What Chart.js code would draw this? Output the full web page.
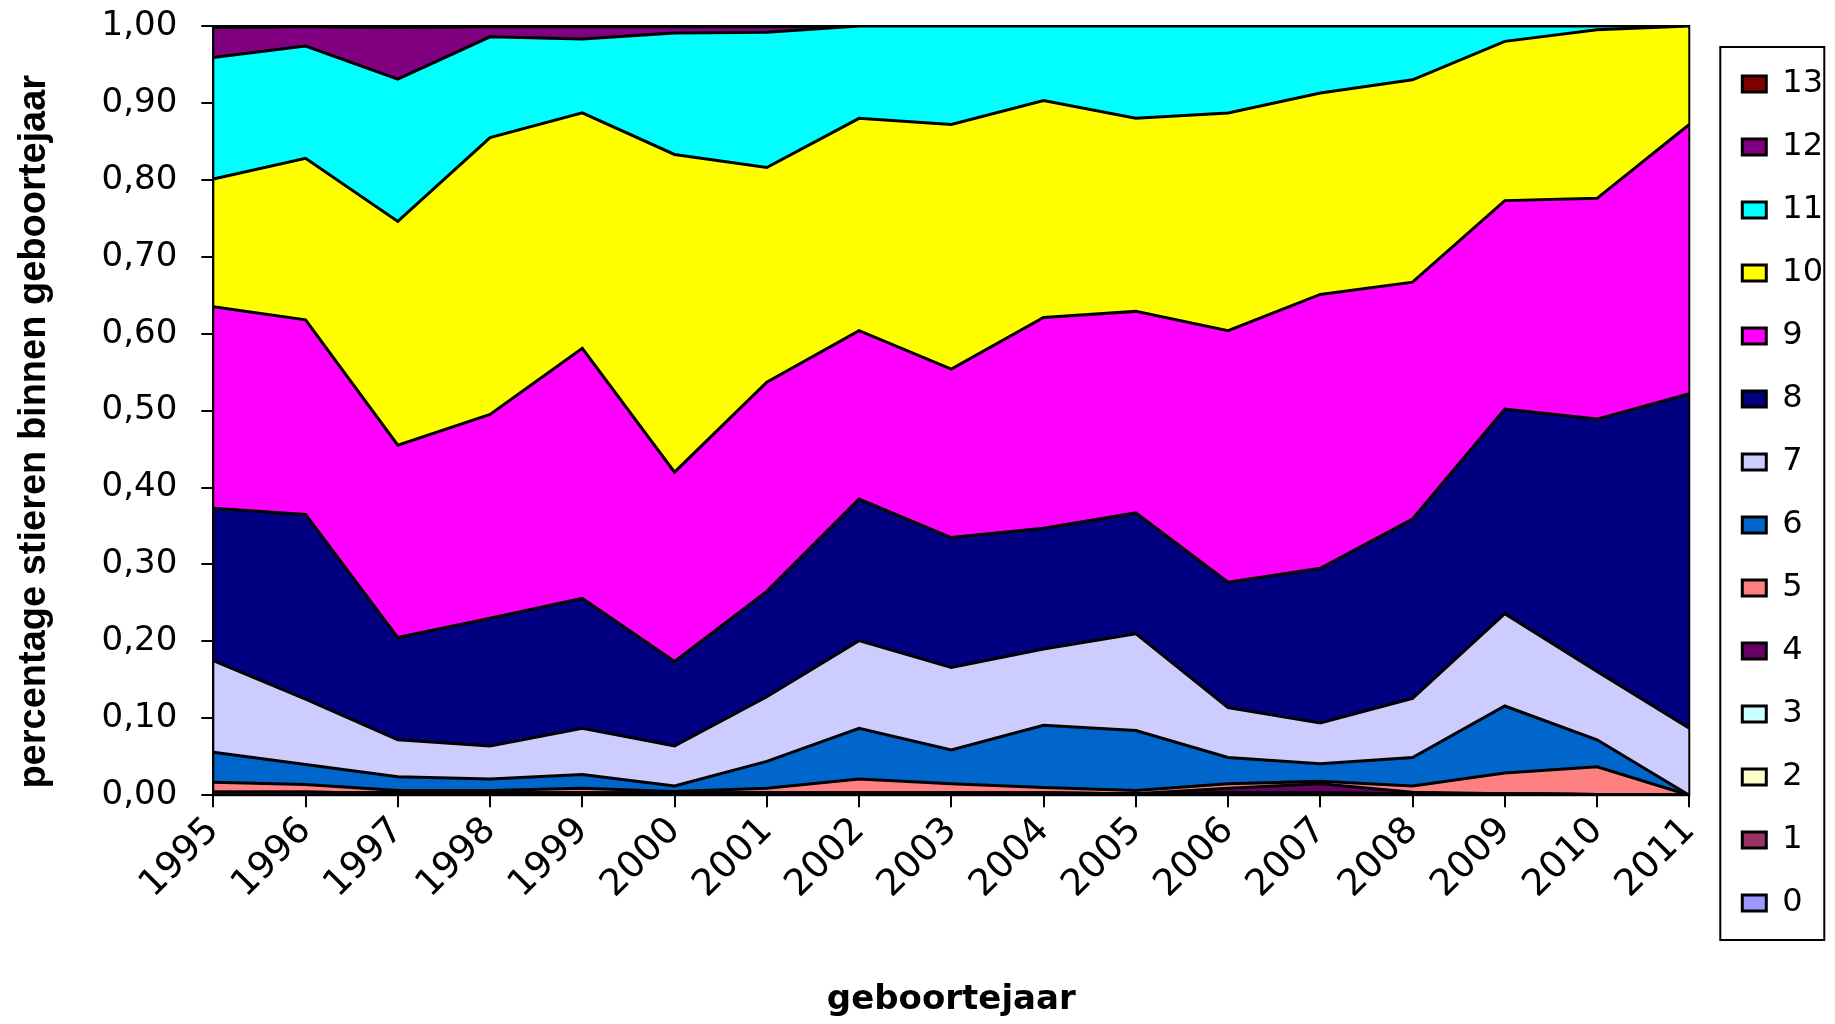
<!DOCTYPE html>
<html>
<head>
<meta charset="utf-8">
<title>Stieren per geboortejaar</title>
<script src="https://cdn.jsdelivr.net/npm/chart.js@4.4.1/dist/chart.umd.min.js"></script>
<style>
    html, body { margin: 0; padding: 0; background: #fff; }
    #wrap { width: 1835px; height: 1024px; position: relative; }
</style>
</head>
<body>
<div id="wrap"><canvas id="stieren-chart"></canvas></div>
<script>
// categories
var years = ['1995', '1996', '1997', '1998', '1999', '2000', '2001', '2002', '2003',
             '2004', '2005', '2006', '2007', '2008', '2009', '2010', '2011'];

// share of bulls per class (stacked bottom -> top)
var series0  = [0, 0, 0, 0, 0, 0, 0, 0, 0, 0, 0, 0, 0, 0, 0, 0, 0];
var series1  = [0.004, 0.004, 0.003, 0.003, 0.003, 0.003, 0.003, 0.003, 0.003, 0.003, 0.002, 0.003, 0.003, 0.002, 0.002, 0.001, 0];
var series2  = [0, 0, 0, 0, 0, 0, 0, 0, 0, 0, 0, 0, 0, 0, 0, 0, 0];
var series3  = [0, 0, 0, 0, 0, 0, 0, 0, 0, 0, 0, 0, 0, 0, 0, 0, 0];
var series4  = [0, 0, 0, 0, 0, 0, 0, 0, 0, 0, 0, 0.006, 0.012, 0.002, 0, 0, 0];
var series5  = [0.013, 0.010, 0.003, 0.003, 0.006, 0.002, 0.006, 0.018, 0.012, 0.007, 0.004, 0.006, 0.003, 0.008, 0.027, 0.036, 0];
var series6  = [0.039, 0.026, 0.018, 0.015, 0.018, 0.007, 0.035, 0.066, 0.044, 0.081, 0.078, 0.034, 0.023, 0.037, 0.087, 0.035, 0];
var series7  = [0.119, 0.085, 0.048, 0.043, 0.060, 0.052, 0.084, 0.114, 0.107, 0.099, 0.126, 0.065, 0.053, 0.077, 0.120, 0.089, 0.087];
var series8  = [0.198, 0.240, 0.133, 0.166, 0.169, 0.110, 0.137, 0.184, 0.169, 0.157, 0.157, 0.163, 0.201, 0.233, 0.266, 0.328, 0.435];
var series9  = [0.262, 0.253, 0.250, 0.265, 0.325, 0.246, 0.272, 0.219, 0.219, 0.274, 0.262, 0.327, 0.356, 0.308, 0.271, 0.287, 0.350];
var series10 = [0.166, 0.210, 0.291, 0.360, 0.306, 0.413, 0.279, 0.276, 0.318, 0.282, 0.251, 0.283, 0.262, 0.263, 0.207, 0.219, 0.128];
var series11 = [0.158, 0.146, 0.185, 0.131, 0.096, 0.158, 0.176, 0.120, 0.128, 0.097, 0.120, 0.113, 0.087, 0.070, 0.020, 0.005, 0];
var series12 = [0.039, 0.025, 0.067, 0.013, 0.016, 0.008, 0.007, 0, 0, 0, 0, 0, 0, 0, 0, 0, 0];
var series13 = [0.002, 0.001, 0.002, 0.001, 0.001, 0.001, 0.001, 0, 0, 0, 0, 0, 0, 0, 0, 0, 0];

var seriesNames = ['0', '1', '2', '3', '4', '5', '6', '7', '8', '9', '10', '11', '12', '13'];
var seriesColors = ['#9999FF', '#993366', '#FFFFCC', '#CCFFFF', '#660066', '#FF8080', '#0066CC',
                    '#CCCCFF', '#000080', '#FF00FF', '#FFFF00', '#00FFFF', '#800080', '#800000'];

var allSeries = [series0, series1, series2, series3, series4, series5, series6,
                 series7, series8, series9, series10, series11, series12, series13];

// excel style number: 0,10
function formatTick(value) {
    return Number(value).toFixed(2).replace('.', ',');
}

// moves the legend to where excel had it, and draws its frame
var legendPlacement = {
    id: 'legendPlacement',
    afterLayout: function(chart) {
        var lg = chart.legend;
        lg.left += 22;
        lg.right += 22;
        lg.top += 11;
    },
    afterDraw: function(chart) {
        var lg = chart.legend;
        var ctx = chart.ctx;
        ctx.save();
        ctx.strokeStyle = '#000';
        ctx.lineWidth = 2;
        ctx.strokeRect(lg.left + 9, lg.top + 10, 104, 893);
        ctx.restore();
    }
};

// plot area frame (right side of the plot is outlined in the original)
var plotFrame = {
    id: 'plotFrame',
    afterDatasetsDraw: function(chart) {
        var a = chart.chartArea;
        var ctx = chart.ctx;
        ctx.save();
        ctx.strokeStyle = '#000';
        ctx.lineWidth = 2;
        ctx.strokeRect(a.left, a.top, a.right - a.left, a.bottom - a.top);
        ctx.restore();
    }
};

document.addEventListener('DOMContentLoaded', function() {
    Chart.defaults.font.family = "'DejaVu Sans', sans-serif";
    Chart.defaults.color = '#000';

    var datasets = allSeries.map(function(values, i) {
        return {
            label: seriesNames[i],
            data: values,
            backgroundColor: seriesColors[i],
            borderColor: '#000',
            borderWidth: 3,
            fill: i === 0 ? 'origin' : '-1',
            pointRadius: 0,
            tension: 0
        };
    });

    var ctx = document.getElementById('stieren-chart').getContext('2d');
    new Chart(ctx, {
        type: 'line',
        data: {
            labels: years,
            datasets: datasets
        },
        plugins: [legendPlacement, plotFrame],
        options: {
            responsive: true,
            maintainAspectRatio: false,
            animation: false,
            layout: {
                autoPadding: false,
                padding: { top: 26, right: 24, bottom: 0, left: 0 }
            },
            plugins: {
                legend: {
                    position: 'right',
                    align: 'start',
                    reverse: true,
                    labels: {
                        boxWidth: 24,
                        boxHeight: 16,
                        padding: 31,
                        color: '#000',
                        font: { size: 32 }
                    }
                },
                tooltip: { enabled: false }
            },
            scales: {
                x: {
                    offset: false,
                    grid: {
                        drawOnChartArea: false,
                        drawTicks: true,
                        tickLength: 12,
                        color: '#000',
                        lineWidth: 2,
                        offset: false
                    },
                    border: { display: true, color: '#000', width: 2 },
                    ticks: {
                        color: '#000',
                        font: { size: 37 },
                        minRotation: 45,
                        maxRotation: 45,
                        autoSkip: false,
                        padding: 2
                    },
                    title: {
                        display: true,
                        text: 'geboortejaar',
                        color: '#000',
                        font: { size: 34, weight: 'bold' },
                        padding: { top: 71, bottom: 3 }
                    }
                },
                y: {
                    stacked: true,
                    min: 0,
                    max: 1,
                    grid: {
                        drawOnChartArea: false,
                        drawTicks: true,
                        tickLength: 12,
                        color: '#000',
                        lineWidth: 2
                    },
                    border: { display: true, color: '#000', width: 2 },
                    ticks: {
                        stepSize: 0.1,
                        color: '#000',
                        // small lineHeight keeps the plot top where excel had it
                        font: { size: 34, lineHeight: 0.1 },
                        padding: 24,
                        callback: formatTick
                    },
                    title: {
                        display: true,
                        text: 'percentage stieren binnen geboortejaar    ',
                        color: '#000',
                        font: { family: "'Liberation Sans', Arial, sans-serif", size: 38, weight: 'bold' },
                        padding: { top: 12, bottom: 20 }
                    }
                }
            }
        }
    });
});
</script>
</body>
</html>
